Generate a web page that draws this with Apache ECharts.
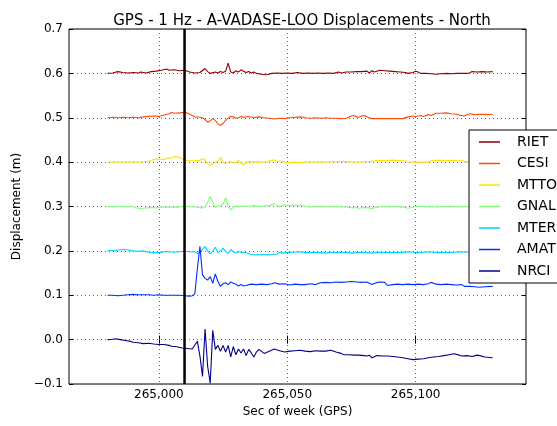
<!DOCTYPE html>
<html>
<head>
<meta charset="utf-8">
<script src="https://cdn.jsdelivr.net/npm/echarts@6/dist/echarts.min.js"></script>
<style>
html,body{margin:0;padding:0;background:#fff;}
#chart{width:557px;height:426px;}
</style>
</head>
<body>
<div id="chart"></div>
<script>
const STATIONS = ['RIET','CESI','MTTO','GNAL','MTER','AMAT','NRCI'];
const COLORS = ['#8b0000','#ff4a0a','#ffe000','#7dff7a','#00d0ff','#0030ff','#000088'];
const X_TICKS = [265000, 265050, 265100];
const Y_TICKS = [-0.1,0,0.1,0.2,0.3,0.4,0.5,0.6,0.7];
const EVENT_T = 265010;

const RIET = [[264980,0.600],[264982,0.601],[264984,0.604],[264986,0.602],[264988,0.601],[264990,0.602],[264992,0.601],[264993,0.603],[264995,0.601],[264997,0.604],[264999,0.605],[265001,0.607],[265003,0.610],[265004,0.607],[265006,0.608],[265008,0.606],[265010,0.607],[265012,0.603],[265014,0.601],[265016,0.602],[265018,0.611],[265019,0.604],[265020,0.600],[265022,0.603],[265023,0.601],[265024,0.604],[265025,0.602],[265026,0.605],[265027,0.623],[265028,0.603],[265029,0.601],[265030,0.606],[265031,0.603],[265032,0.608],[265033,0.605],[265034,0.602],[265035,0.604],[265036,0.601],[265037,0.603],[265038,0.600],[265040,0.598],[265042,0.597],[265044,0.600],[265046,0.601],[265048,0.600],[265050,0.601],[265052,0.600],[265054,0.602],[265056,0.600],[265058,0.601],[265060,0.600],[265062,0.601],[265064,0.600],[265066,0.601],[265068,0.600],[265070,0.603],[265071,0.601],[265073,0.603],[265075,0.603],[265077,0.604],[265079,0.604],[265081,0.605],[265082,0.601],[265083,0.606],[265084,0.603],[265086,0.607],[265088,0.606],[265090,0.605],[265092,0.604],[265094,0.603],[265096,0.602],[265097,0.600],[265099,0.602],[265100,0.605],[265101,0.603],[265102,0.600],[265104,0.600],[265106,0.599],[265108,0.598],[265110,0.599],[265112,0.600],[265114,0.599],[265116,0.600],[265118,0.600],[265120,0.600],[265121,0.601],[265122,0.604],[265124,0.603],[265126,0.604],[265128,0.603],[265130,0.604]];

const CESI = [[264980,0.500],[264982,0.501],[264984,0.500],[264986,0.501],[264988,0.500],[264990,0.501],[264992,0.500],[264994,0.502],[264996,0.503],[264998,0.504],[265000,0.503],[265002,0.506],[265004,0.509],[265005,0.512],[265006,0.510],[265008,0.511],[265010,0.512],[265011,0.511],[265012,0.508],[265014,0.502],[265016,0.501],[265017,0.500],[265018,0.496],[265019,0.490],[265020,0.493],[265021,0.498],[265022,0.494],[265023,0.486],[265024,0.483],[265025,0.487],[265026,0.494],[265027,0.499],[265028,0.503],[265029,0.502],[265030,0.499],[265031,0.500],[265032,0.503],[265033,0.501],[265035,0.503],[265037,0.500],[265039,0.502],[265041,0.500],[265043,0.499],[265045,0.497],[265047,0.499],[265049,0.498],[265051,0.500],[265053,0.501],[265055,0.502],[265057,0.500],[265059,0.499],[265061,0.500],[265063,0.499],[265065,0.500],[265067,0.499],[265069,0.499],[265071,0.498],[265073,0.499],[265075,0.504],[265076,0.505],[265077,0.502],[265078,0.501],[265079,0.504],[265080,0.505],[265082,0.500],[265083,0.498],[265085,0.498],[265087,0.498],[265089,0.498],[265091,0.498],[265093,0.498],[265095,0.498],[265097,0.502],[265099,0.504],[265100,0.503],[265102,0.505],[265103,0.503],[265105,0.507],[265106,0.505],[265108,0.510],[265110,0.510],[265112,0.511],[265114,0.509],[265116,0.508],[265117,0.506],[265119,0.504],[265121,0.509],[265123,0.507],[265126,0.508],[265128,0.507],[265130,0.508]];

const MTTO = [[264980,0.400],[264982,0.401],[264984,0.400],[264986,0.401],[264988,0.400],[264990,0.401],[264992,0.400],[264994,0.401],[264996,0.402],[264998,0.406],[265000,0.407],[265002,0.406],[265004,0.410],[265005,0.409],[265006,0.413],[265008,0.411],[265010,0.405],[265012,0.403],[265014,0.403],[265016,0.404],[265017,0.408],[265018,0.405],[265019,0.396],[265020,0.392],[265021,0.396],[265022,0.400],[265023,0.402],[265024,0.411],[265025,0.399],[265026,0.396],[265027,0.400],[265028,0.402],[265029,0.398],[265030,0.399],[265031,0.404],[265032,0.398],[265033,0.394],[265034,0.399],[265035,0.402],[265036,0.400],[265038,0.401],[265040,0.400],[265042,0.401],[265044,0.404],[265045,0.405],[265046,0.402],[265048,0.402],[265050,0.398],[265052,0.400],[265055,0.399],[265057,0.400],[265059,0.401],[265061,0.400],[265063,0.401],[265065,0.400],[265067,0.401],[265069,0.401],[265072,0.402],[265074,0.400],[265076,0.401],[265078,0.400],[265080,0.401],[265082,0.401],[265084,0.403],[265086,0.404],[265088,0.403],[265090,0.404],[265092,0.404],[265094,0.403],[265096,0.403],[265097,0.401],[265099,0.400],[265101,0.400],[265103,0.400],[265105,0.400],[265106,0.403],[265108,0.404],[265110,0.404],[265112,0.403],[265114,0.404],[265116,0.403],[265118,0.403],[265120,0.400],[265122,0.402],[265124,0.401],[265126,0.402],[265128,0.401],[265130,0.401]];

const GNAL = [[264980,0.300],[264982,0.299],[264984,0.300],[264986,0.300],[264988,0.299],[264990,0.300],[264991,0.297],[264993,0.295],[264995,0.297],[264997,0.298],[264999,0.297],[265001,0.299],[265003,0.298],[265005,0.299],[265007,0.298],[265009,0.300],[265011,0.300],[265013,0.299],[265015,0.299],[265016,0.297],[265017,0.297],[265018,0.299],[265019,0.310],[265020,0.322],[265021,0.310],[265022,0.298],[265023,0.301],[265024,0.303],[265025,0.305],[265026,0.320],[265027,0.300],[265028,0.292],[265029,0.299],[265030,0.301],[265031,0.300],[265033,0.301],[265035,0.300],[265037,0.302],[265039,0.300],[265041,0.301],[265043,0.302],[265045,0.306],[265046,0.302],[265047,0.300],[265049,0.304],[265051,0.302],[265053,0.303],[265055,0.303],[265057,0.300],[265059,0.299],[265061,0.300],[265063,0.299],[265065,0.300],[265067,0.299],[265069,0.300],[265071,0.299],[265073,0.299],[265075,0.297],[265077,0.298],[265078,0.296],[265080,0.298],[265082,0.297],[265083,0.295],[265084,0.298],[265086,0.299],[265088,0.300],[265090,0.299],[265092,0.300],[265094,0.299],[265096,0.298],[265097,0.296],[265099,0.299],[265101,0.300],[265103,0.300],[265105,0.299],[265107,0.300],[265109,0.299],[265111,0.300],[265113,0.299],[265115,0.300],[265117,0.299],[265119,0.300],[265121,0.299],[265123,0.300],[265125,0.299],[265127,0.300],[265130,0.300]];

const MTER = [[264980,0.200],[264982,0.201],[264984,0.202],[264986,0.203],[264988,0.202],[264990,0.200],[264992,0.199],[264994,0.200],[264996,0.197],[264998,0.196],[265000,0.196],[265002,0.198],[265004,0.198],[265006,0.197],[265008,0.198],[265010,0.199],[265012,0.198],[265014,0.198],[265015,0.194],[265016,0.197],[265017,0.204],[265018,0.210],[265019,0.200],[265020,0.193],[265021,0.199],[265022,0.208],[265023,0.196],[265024,0.200],[265025,0.206],[265026,0.199],[265027,0.194],[265028,0.203],[265029,0.198],[265030,0.195],[265031,0.198],[265032,0.197],[265034,0.196],[265036,0.192],[265038,0.191],[265040,0.192],[265042,0.191],[265044,0.192],[265046,0.193],[265047,0.197],[265048,0.195],[265050,0.196],[265052,0.197],[265055,0.198],[265057,0.196],[265059,0.196],[265061,0.197],[265063,0.196],[265065,0.195],[265067,0.197],[265069,0.196],[265071,0.196],[265073,0.197],[265075,0.195],[265077,0.196],[265079,0.197],[265081,0.196],[265083,0.195],[265085,0.197],[265087,0.196],[265089,0.197],[265091,0.196],[265093,0.197],[265095,0.196],[265097,0.198],[265099,0.197],[265101,0.196],[265103,0.197],[265105,0.198],[265107,0.197],[265109,0.196],[265111,0.197],[265113,0.196],[265115,0.197],[265117,0.198],[265119,0.197],[265121,0.198],[265124,0.197],[265127,0.198],[265130,0.198]];

const AMAT = [[264980,0.100],[264982,0.100],[264984,0.099],[264986,0.100],[264988,0.101],[264990,0.102],[264992,0.101],[264994,0.101],[264996,0.101],[264998,0.100],[265000,0.101],[265002,0.100],[265004,0.100],[265006,0.100],[265008,0.100],[265010,0.099],[265012,0.098],[265013,0.099],[265014,0.103],[265015,0.160],[265016,0.210],[265017,0.146],[265018,0.138],[265019,0.134],[265020,0.142],[265021,0.127],[265022,0.148],[265023,0.131],[265024,0.120],[265025,0.126],[265026,0.128],[265027,0.124],[265028,0.130],[265029,0.127],[265030,0.125],[265031,0.121],[265032,0.124],[265033,0.121],[265034,0.122],[265036,0.125],[265038,0.124],[265040,0.125],[265042,0.124],[265044,0.126],[265045,0.128],[265047,0.125],[265049,0.126],[265051,0.123],[265053,0.125],[265055,0.124],[265057,0.124],[265059,0.126],[265061,0.124],[265063,0.128],[265065,0.129],[265067,0.128],[265069,0.130],[265071,0.129],[265073,0.130],[265075,0.131],[265077,0.130],[265079,0.129],[265081,0.130],[265083,0.124],[265085,0.129],[265087,0.130],[265088,0.129],[265089,0.122],[265091,0.124],[265093,0.125],[265095,0.124],[265097,0.125],[265099,0.124],[265101,0.125],[265103,0.124],[265105,0.126],[265106,0.129],[265108,0.125],[265110,0.124],[265112,0.125],[265114,0.124],[265116,0.123],[265118,0.124],[265119,0.120],[265121,0.120],[265123,0.119],[265125,0.118],[265127,0.119],[265130,0.120]];

const NRCI = [[264980,0.000],[264982,0.001],[264983,0.002],[264985,0.000],[264987,-0.002],[264989,-0.004],[264990,-0.006],[264992,-0.007],[264994,-0.009],[264996,-0.008],[264998,-0.010],[265000,-0.011],[265002,-0.011],[265004,-0.013],[265005,-0.015],[265007,-0.016],[265009,-0.019],[265011,-0.020],[265013,-0.021],[265014,-0.012],[265015,-0.004],[265016,-0.037],[265017,-0.083],[265018,0.024],[265019,-0.060],[265020,-0.098],[265021,0.021],[265022,-0.022],[265023,-0.013],[265024,-0.026],[265025,-0.013],[265026,-0.028],[265027,-0.013],[265028,-0.039],[265029,-0.016],[265030,-0.034],[265031,-0.021],[265032,-0.030],[265033,-0.021],[265034,-0.036],[265035,-0.022],[265036,-0.030],[265037,-0.039],[265038,-0.028],[265039,-0.022],[265041,-0.031],[265043,-0.026],[265045,-0.021],[265047,-0.025],[265049,-0.028],[265051,-0.026],[265053,-0.025],[265055,-0.024],[265057,-0.026],[265059,-0.027],[265061,-0.025],[265063,-0.026],[265065,-0.026],[265067,-0.024],[265069,-0.028],[265071,-0.031],[265072,-0.034],[265074,-0.034],[265076,-0.035],[265078,-0.035],[265080,-0.036],[265081,-0.037],[265082,-0.035],[265083,-0.041],[265085,-0.036],[265087,-0.037],[265089,-0.037],[265091,-0.038],[265093,-0.039],[265095,-0.041],[265097,-0.043],[265099,-0.045],[265101,-0.044],[265103,-0.043],[265105,-0.041],[265107,-0.039],[265109,-0.038],[265111,-0.036],[265113,-0.034],[265115,-0.032],[265117,-0.035],[265118,-0.037],[265120,-0.036],[265122,-0.038],[265124,-0.035],[265125,-0.036],[265127,-0.039],[265130,-0.041]];

const SERIES_DATA = [RIET, CESI, MTTO, GNAL, MTER, AMAT, NRCI];
const X_MIN = 264965, X_MAX = 265143;
const Y_MIN = -0.1, Y_MAX = 0.7;

const FONT = 'DejaVu Sans';
const chart = echarts.init(document.getElementById('chart'), null, {renderer: 'canvas'});

const gridLine = {show: true, lineStyle: {color: '#666', width: 1, type: [1, 3]}};

const series = STATIONS.map((name, i) => ({
  name: name,
  type: 'line',
  data: SERIES_DATA[i],
  showSymbol: false,
  symbol: 'none',
  lineStyle: {color: COLORS[i], width: 1.1},
  itemStyle: {color: COLORS[i]},
  z: 3
}));
series.push({
  name: 'event',
  type: 'line',
  data: [[EVENT_T, Y_MIN], [EVENT_T, Y_MAX]],
  showSymbol: false,
  symbol: 'none',
  lineStyle: {color: '#000', width: 2.5},
  z: 5
});

const option = {
  animation: false,
  backgroundColor: '#fff',
  textStyle: {fontFamily: FONT},
  title: {
    text: 'GPS - 1 Hz - A-VADASE-LOO Displacements - North',
    left: 297, top: 9, textAlign: 'center',
    textStyle: {fontFamily: FONT, fontSize: 15, fontWeight: 'normal', color: '#000'}
  },
  grid: {left: 69, right: 31, top: 29, bottom: 42, show: true, borderColor: '#000', borderWidth: 1, backgroundColor: 'transparent'},
  legend: {
    data: STATIONS,
    orient: 'vertical',
    left: 469, top: 130,
    padding: [5, 10, 5, 10],
    itemGap: 7.5,
    itemWidth: 21, itemHeight: 1.5,
    icon: 'rect',
    backgroundColor: '#fff',
    borderColor: '#000', borderWidth: 1, borderRadius: 0,
    textStyle: {fontFamily: FONT, fontSize: 14, color: '#000', padding: [0, 0, 0, 12], lineHeight: 14}
  },
  xAxis: [{
    type: 'value', min: X_MIN, max: X_MAX,
    name: 'Sec of week (GPS)', nameLocation: 'middle', nameGap: 21,
    nameTextStyle: {fontFamily: FONT, fontSize: 12, color: '#000'},
    axisLine: {show: false},
    axisTick: {show: true, inside: true, length: 4, customValues: X_TICKS, lineStyle: {color: '#000'}},
    axisLabel: {customValues: X_TICKS, fontFamily: FONT, fontSize: 12, color: '#000', margin: 5,
      formatter: v => Math.round(v).toLocaleString('en-US')},
    splitLine: gridLine
  }, {
    type: 'value', min: X_MIN, max: X_MAX, position: 'top',
    axisLine: {show: false},
    axisTick: {show: true, inside: true, length: 4, customValues: X_TICKS, lineStyle: {color: '#000'}},
    axisLabel: {show: false, customValues: X_TICKS},
    splitLine: {show: false}
  }],
  yAxis: [{
    type: 'value', min: Y_MIN, max: Y_MAX, interval: 0.1,
    name: 'Displacement (m)', nameLocation: 'middle', nameGap: 40,
    nameTextStyle: {fontFamily: FONT, fontSize: 12, color: '#000'},
    axisLine: {show: false},
    axisTick: {show: true, inside: true, length: 4, lineStyle: {color: '#000'}},
    axisLabel: {fontFamily: FONT, fontSize: 12, color: '#000', margin: 6,
      formatter: v => { const s = (Math.round(v * 10) / 10).toFixed(1); return s.replace('-', '\u2212'); }},
    splitLine: gridLine
  }, {
    type: 'value', min: Y_MIN, max: Y_MAX, interval: 0.1, position: 'right',
    axisLine: {show: false},
    axisTick: {show: true, inside: true, length: 4, lineStyle: {color: '#000'}},
    axisLabel: {show: false},
    splitLine: {show: false}
  }],
  series: series
};
chart.setOption(option);
</script>
</body>
</html>
